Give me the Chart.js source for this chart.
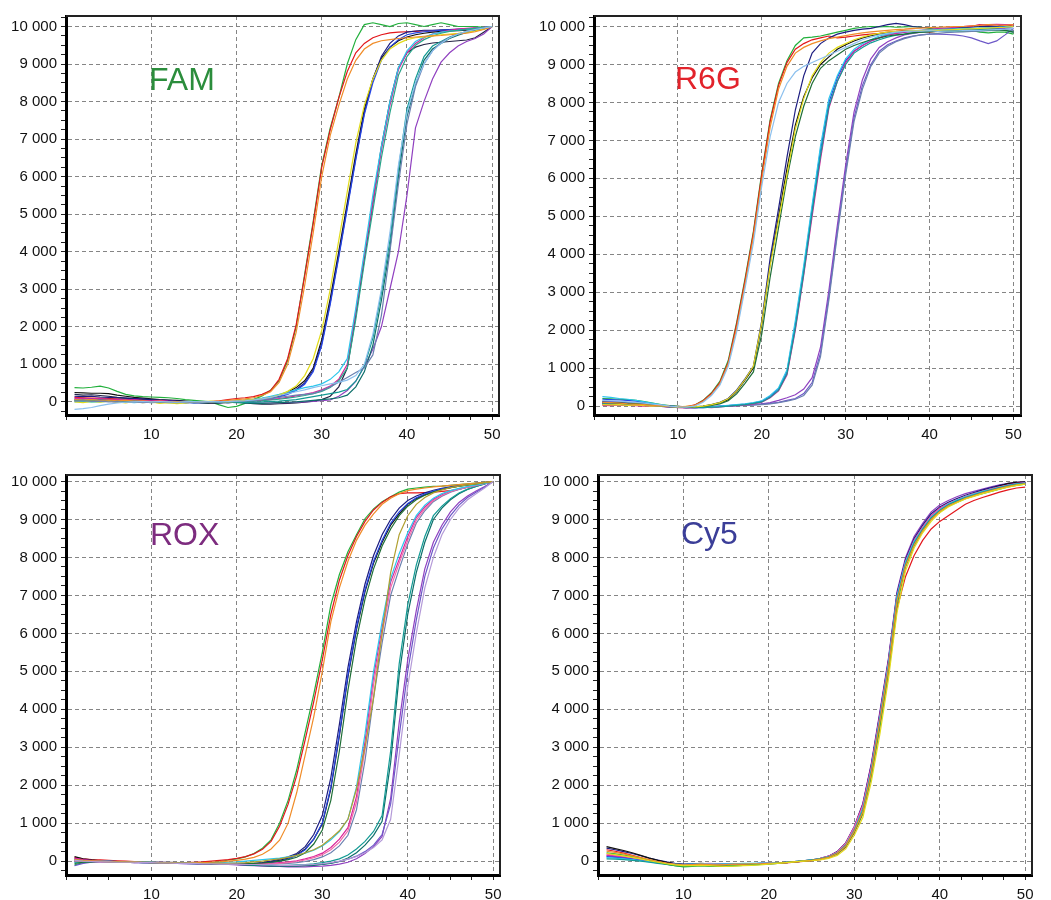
<!DOCTYPE html>
<html>
<head>
<meta charset="utf-8">
<title>Amplification curves</title>
<script src="https://cdn.jsdelivr.net/npm/chart.js@4.4.1/dist/chart.umd.min.js"></script>
<style>
  html, body { margin: 0; padding: 0; background: #fff; width: 1051px; height: 900px; overflow: hidden; }
  .panel { position: absolute; }
  .dye { position: absolute; font-family: "Liberation Sans", Arial, sans-serif; font-size: 32px; line-height: 32px; white-space: nowrap; }
</style>
</head>
<body>
<div class="panel" style="left:0px;top:3px;width:515px;height:452px"><canvas id="famCanvas"></canvas></div>
<div class="panel" style="left:528px;top:3px;width:509px;height:452px"><canvas id="r6gCanvas"></canvas></div>
<div class="panel" style="left:0px;top:462px;width:516px;height:453px"><canvas id="roxCanvas"></canvas></div>
<div class="panel" style="left:532px;top:462px;width:516px;height:453px"><canvas id="cy5Canvas"></canvas></div>

<div class="dye" style="left:149px;top:63px;color:#2b8d3c">FAM</div>
<div class="dye" style="left:675px;top:62px;color:#e2232b">R6G</div>
<div class="dye" style="left:150px;top:518px;color:#7d2c7f">ROX</div>
<div class="dye" style="left:681px;top:517px;color:#3b3e98">Cy5</div>

<script>
// cycle numbers (x axis)
const cycles = [1,2,3,4,5,6,7,8,9,10, 11,12,13,14,15,16,17,18,19,20, 21,22,23,24,25,26,27,28,29,30,
  31,32,33,34,35,36,37,38,39,40, 41,42,43,44,45,46,47,48,49,50];

// tick positions (labels only on the multiples of 10 / 1000)
const xTickValues = [0,2.5,5,7.5,10,12.5,15,17.5,20,22.5,25,27.5,30,32.5,35,37.5,40,42.5,45,47.5,50];
const yTickValues = [-250,0,250,500,750,1000,1250,1500,1750,2000,2250,2500,2750,3000,3250,3500,3750,
  4000,4250,4500,4750,5000,5250,5500,5750,6000,6250,6500,6750,7000,7250,7500,7750,8000,8250,8500,8750,
  9000,9250,9500,9750,10000,10250];

// ---- FAM ----
const famGreen = [380,370,390,420,370,280,200,160,140,130, 120,110,90,60,40,20,0,-80,-150,-120, -40,60,160,310,560,1100,2000,3400,4800,6300, 7300,8100,9000,9650,10050,10100,10050,10000,10080,10100, 10050,10000,10050,10100,10050,10000,10000,10000,9980,10000];
const famRed = [120,110,100,100,90,80,70,60,50,40, 30,20,10,0,-10,0,10,30,60,90, 110,140,200,300,600,1150,2050,3350,4750,6250, 7250,8100,8800,9300,9550,9700,9780,9830,9850,9860, 9870,9880,9880,9890,9900,9900,9920,9940,9970,10000];
const famOrange = [60,50,60,40,50,30,40,20,30,10, 20,0,10,-10,0,10,0,20,40,60, 80,110,170,270,520,1000,1850,3100,4500,6000, 7100,7900,8600,9100,9400,9550,9620,9650,9680,9700, 9720,9740,9750,9760,9780,9800,9820,9860,9920,10000];
const famYellow = [0,-20,10,-10,20,0,-30,10,-20,0, -40,-20,-50,-30,-10,0,20,10,0,20, 40,60,80,120,180,280,420,700,1150,1900, 3000,4300,5600,6900,7900,8600,9100,9400,9550,9650, 9700,9720,9750,9780,9800,9820,9850,9880,9930,10000];
const famBlack = [250,240,230,230,220,180,150,120,100,80, 60,50,40,20,0,-20,-30,-20,0,20, 40,60,90,130,180,260,380,560,900,1650, 2750,4000,5300,6600,7800,8600,9150,9450,9620,9720, 9780,9820,9850,9870,9880,9890,9900,9920,9950,10000];
const famNavy = [150,140,150,130,120,110,100,90,80,60, 50,40,30,10,0,-10,0,-20,-10,0, 10,30,60,100,150,220,330,500,850,1550, 2650,3900,5200,6500,7700,8600,9200,9550,9750,9850, 9880,9900,9900,9910,9920,9930,9940,9950,9970,10000];
const famBlue = [80,70,90,60,70,50,40,50,30,20, 30,10,0,-20,-30,-20,-10,0,-20,-10, 0,20,50,80,130,200,300,470,800,1500, 2600,3850,5150,6450,7650,8500,9100,9450,9650,9780, 9830,9860,9880,9900,9910,9920,9930,9950,9970,10000];
const famMagenta = [100,90,80,90,70,60,50,60,40,30, 40,20,10,0,-10,0,-20,-10,0,10, 20,30,40,60,90,120,160,200,250,320, 420,600,1000,2400,3900,5300,6700,7900,8850,9300, 9550,9700,9800,9850,9900,9930,9950,9970,9980,10000];
const famCyan = [0,10,-10,0,20,10,0,-20,0,10, 0,-10,-20,0,10,0,-10,0,10,20, 40,70,100,150,200,260,320,380,420,480, 600,800,1150,2500,4000,5500,6800,8000,8900,9350, 9600,9720,9800,9850,9880,9900,9920,9950,9970,10000];
const famSea = [40,30,50,30,20,30,10,20,0,10, 0,-10,0,-20,-10,0,-10,0,-20,0, 10,20,30,50,70,100,130,170,220,280, 380,560,900,2200,3700,5100,6500,7700,8700,9200, 9500,9650,9750,9820,9870,9900,9930,9950,9970,10000];
const famDark = [200,180,190,170,150,120,100,80,60,50, 40,30,10,0,-20,-30,-40,-30,-20,-10, -30,-50,-60,-60,-50,-40,-30,-10,20,60, 150,400,900,2300,3800,5300,6800,8000,8900,9300, 9450,9520,9560,9580,9600,9620,9640,9700,9850,10000];
const famTeal = [60,50,40,50,40,30,20,30,20,10, 0,10,-10,0,-20,-10,0,-10,0,-10, -20,-10,0,10,20,40,60,100,140,180, 220,260,330,550,950,1700,2900,4300,6200,7800, 8600,9200,9480,9600,9720,9800,9850,9900,9950,10000];
const famDeepTeal = [30,20,30,10,20,0,10,-10,0,-20, -10,-20,-30,-20,-10,-20,-30,-20,-10,-20, -30,-40,-40,-30,-20,-10,0,20,40,60, 80,110,180,400,800,1500,2700,4100,6000,7600, 8450,9100,9400,9550,9680,9770,9840,9900,9950,10000];
const famSky = [-200,-180,-150,-100,-60,-30,-10,0,10,0, 10,0,-10,0,10,0,10,0,10,20, 30,50,80,120,170,220,270,320,380,430, 480,520,580,700,1000,1800,3000,4500,6300,7700, 8500,9000,9350,9550,9700,9800,9870,9920,9960,10000];
const famSlate = [20,30,10,20,0,10,-10,0,-20,-10, 0,-10,-20,-10,0,-10,0,10,0,10, 20,40,60,90,120,150,180,200,220,300, 400,520,650,780,900,1250,2300,4000,5800,7400, 8400,9000,9350,9580,9700,9800,9870,9920,9960,10000];
const famPurple = [20,10,30,20,10,0,10,-10,0,-10, -20,-10,0,-20,-10,0,-10,-20,-10,0, -10,-20,-30,-30,-20,-20,-10,0,10,30, 50,150,300,550,950,1400,2000,3000,4000,5500, 7300,8000,8600,9050,9300,9480,9600,9680,9800,10000];

// ---- R6G ----
const r6gGreen = [200,190,180,170,150,120,80,40,10,-10, -30,20,150,350,650,1200,2200,3350,4600,6150, 7550,8500,9100,9500,9700,9720,9750,9800,9850,9900, 9950,9980,10000,9990,10000,9980,9990,10000,9980,9950, 9900,9880,9870,9880,9900,9850,9830,9850,9850,9800];
const r6gRed = [60,50,40,50,40,30,20,0,-20,-30, -20,30,140,330,620,1150,2150,3300,4550,6100, 7500,8450,9050,9400,9550,9650,9700,9750,9700,9720, 9750,9780,9800,9820,9850,9870,9900,9900,9880,9850, 9880,9900,9950,9970,10000,10050,10030,10050,10000,10050];
const r6gOrange = [100,90,80,60,50,40,20,10,-10,-20, -10,20,120,300,580,1100,2050,3200,4450,5950, 7350,8350,8950,9300,9450,9550,9620,9680,9720,9760, 9800,9830,9860,9880,9900,9920,9930,9950,9960,9970, 9980,9990,10000,10000,10020,10030,10050,10040,10030,10050];
const r6gSky = [150,140,130,110,100,80,50,30,0,-20, -30,0,100,280,550,1050,1950,3100,4300,5800, 7100,8000,8500,8800,8950,9050,9150,9250,9350,9450, 9550,9650,9720,9780,9820,9850,9870,9880,9880,9890, 9870,9880,9880,9890,9900,9900,9910,9920,9930,9950];
const r6gBlack = [80,70,60,70,50,40,30,20,0,-10, -20,-30,-10,30,80,170,380,680,1000,2150, 3750,5000,6250,7400,8150,8650,9000,9200,9400,9520, 9620,9700,9760,9800,9830,9850,9870,9880,9890,9900, 9900,9910,9900,9920,9930,9950,9960,9980,9990,10000];
const r6gNavy = [120,110,100,90,80,60,40,20,0,-20, -30,-20,0,40,100,200,420,720,1050,2250, 3900,5200,6550,7800,8700,9300,9550,9700,9800,9850, 9900,9930,9950,10000,10050,10080,10050,10000,9980,9970, 9960,9950,9960,9970,9980,10000,10010,10000,10020,10000];
const r6gYellow = [40,30,40,20,30,10,0,10,-10,-20, -10,-20,0,40,90,190,400,700,1050,2200, 3700,4900,6100,7300,8100,8700,9050,9300,9450,9550, 9650,9720,9780,9820,9850,9870,9880,9890,9890,9900, 9900,9910,9920,9930,9940,9950,9960,9970,9980,10000];
const r6gDarkGreen = [100,90,80,80,70,50,30,10,0,-20, -30,-30,-10,20,60,140,320,600,900,1900, 3400,4700,6000,7100,7900,8500,8900,9100,9250,9400, 9500,9580,9650,9700,9750,9780,9800,9830,9850,9860, 9870,9880,9880,9890,9900,9900,9910,9920,9900,9850];
const r6gCyan = [250,230,200,180,150,110,70,30,0,-20, -30,-40,-30,-20,0,20,40,60,90,140, 280,480,950,2250,3700,5300,6850,8100,8700,9150, 9400,9550,9650,9750,9800,9850,9870,9890,9900,9910, 9920,9930,9940,9950,9950,9960,9970,9980,9990,10000];
const r6gBlue = [180,170,160,150,130,100,60,20,-10,-30, -40,-50,-40,-30,-10,10,30,50,80,130, 260,450,900,2150,3600,5200,6750,8000,8650,9100, 9350,9500,9620,9700,9780,9820,9850,9870,9880,9900, 9900,9910,9920,9920,9930,9940,9950,9960,9980,10000];
const r6gTeal = [60,50,60,40,50,30,20,0,-20,-30, -40,-30,-40,-30,-20,0,20,40,70,110, 230,420,850,2050,3500,5100,6600,7900,8550,9000, 9300,9450,9570,9650,9720,9770,9800,9830,9850,9870, 9880,9890,9900,9900,9910,9920,9920,9930,9900,9850];
const r6gMagenta = [20,10,30,20,10,0,10,-10,-20,-40, -50,-40,-30,-40,-20,0,10,30,60,100, 220,400,820,2000,3450,5000,6500,7850,8550,9050, 9350,9500,9620,9700,9780,9820,9850,9880,9900,9920, 9940,9960,9980,10000,10020,10040,10050,10060,10050,10050];
const r6gPurple = [50,40,30,40,20,10,0,-10,-20,-30, -40,-30,-20,-10,0,10,20,30,40,60, 90,150,220,300,450,750,1550,3050,4750,6350, 7750,8600,9150,9450,9600,9700,9780,9820,9850,9870, 9880,9890,9900,9910,9920,9930,9940,9950,9960,9950];
const r6gViolet = [130,120,110,100,90,70,40,20,0,-20, -30,-40,-30,-20,-10,0,10,20,30,50, 70,100,150,200,330,620,1400,2900,4600,6200, 7600,8450,9000,9350,9520,9620,9700,9750,9780,9800, 9800,9790,9780,9750,9700,9620,9550,9620,9780,9950];
const r6gSlate = [80,70,60,50,40,30,20,0,-10,-20, -30,-20,-30,-20,-10,0,10,20,30,40, 60,90,130,180,280,550,1300,2800,4500,6100, 7500,8350,8950,9300,9480,9600,9680,9740,9780,9800, 9820,9840,9850,9860,9870,9880,9890,9900,9920,9900];

// ---- ROX ----
const roxGreen = [-100,-40,-20,-10,-10,-20,-20,-30,-30,-40, -40,-50,-50,-60,-60,-50,-40,-20,30,60, 110,200,340,560,1000,1600,2400,3400,4400,5500, 6750,7550,8150,8600,9020,9280,9470,9600,9720,9800, 9830,9850,9870,9880,9900,9920,9940,9960,9980,10000];
const roxRed = [100,60,40,30,20,10,0,-10,-20,-20, -30,-30,-40,-40,-30,-20,0,20,40,70, 120,190,310,520,920,1500,2250,3200,4200,5300, 6500,7400,8050,8550,8950,9250,9450,9600,9680,9700, 9700,9710,9720,9740,9760,9800,9850,9900,9950,10000];
const roxOrange = [40,20,10,0,-10,-10,-20,-20,-30,-30, -40,-40,-50,-50,-40,-40,-30,-20,0,20, 50,100,180,320,550,1000,1800,2800,3800,5000, 6300,7200,7900,8450,8850,9150,9400,9560,9680,9760, 9800,9830,9860,9880,9900,9920,9940,9960,9980,10000];
const roxBlack = [120,60,30,10,0,-10,-20,-20,-30,-30, -40,-40,-50,-50,-60,-60,-70,-70,-80,-80, -80,-70,-50,-20,20,80,170,320,580,980, 1900,3300,4850,6100,7100,7850,8400,8850,9150,9400, 9550,9650,9730,9800,9840,9880,9910,9940,9970,10000];
const roxNavy = [60,30,10,0,-10,-10,-20,-30,-30,-40, -40,-50,-50,-60,-60,-70,-70,-80,-80,-80, -70,-60,-40,0,50,110,200,380,700,1200, 2200,3600,5100,6300,7300,8050,8600,9000,9300,9500, 9620,9700,9770,9820,9860,9890,9920,9950,9970,10000];
const roxBlue = [0,0,-10,-10,-20,-20,-30,-30,-40,-40, -50,-50,-60,-60,-70,-70,-80,-80,-80,-90, -90,-80,-70,-40,0,60,150,300,580,1000, 1950,3350,4900,6150,7150,7900,8450,8900,9200,9420, 9570,9670,9750,9810,9850,9890,9920,9950,9970,10000];
const roxDarkGreen = [-60,-30,-20,-10,-10,-20,-20,-30,-30,-40, -40,-50,-50,-50,-60,-60,-60,-70,-70,-70, -70,-60,-50,-30,0,40,100,220,450,820, 1600,2900,4500,5850,6900,7700,8300,8750,9100,9350, 9520,9640,9720,9790,9840,9880,9910,9940,9970,10000];
const roxOlive = [20,0,-10,-10,-20,-20,-30,-30,-30,-40, -40,-40,-50,-50,-50,-60,-60,-60,-60,-50, -40,-20,0,30,60,100,150,220,300,420, 600,800,1100,1900,3000,4300,6000,7600,8600,9100, 9400,9580,9700,9780,9840,9880,9910,9940,9970,10000];
const roxMagenta = [80,40,20,10,0,-10,-10,-20,-20,-30, -30,-40,-40,-50,-50,-60,-60,-70,-70,-80, -80,-80,-70,-60,-40,-20,10,60,120,210, 360,580,880,1700,3150,4850,6150,7350,7950,8550, 9050,9330,9530,9650,9740,9800,9850,9900,9950,10000];
const roxCyan = [-40,-20,-10,0,0,-10,-10,-20,-20,-20, -30,-30,-40,-40,-40,-50,-50,-40,-30,-20, 0,20,40,60,80,110,150,210,290,400, 560,780,1100,1950,3350,5000,6300,7450,8100,8650, 9100,9380,9560,9680,9760,9820,9870,9910,9950,10000];
const roxPink = [0,-10,-10,-20,-20,-20,-30,-30,-30,-40, -40,-50,-50,-60,-60,-70,-70,-70,-80,-80, -80,-80,-80,-70,-60,-40,-10,30,90,170, 300,500,800,1550,2950,4650,6000,7200,7850,8450, 8980,9280,9500,9630,9730,9800,9850,9900,9950,10000];
const roxSlate = [30,10,0,-10,-10,-20,-20,-30,-30,-40, -40,-50,-50,-60,-60,-70,-70,-80,-80,-90, -90,-90,-90,-80,-70,-60,-40,-10,40,110, 220,400,680,1350,2650,4300,5750,7000,7700,8350, 8900,9230,9470,9610,9720,9790,9850,9900,9950,10000];
const roxTeal = [50,20,0,-10,-10,-20,-20,-30,-30,-40, -40,-50,-50,-60,-60,-70,-70,-80,-80,-90, -90,-100,-100,-110,-110,-110,-100,-90,-70,-40, 0,60,160,320,520,780,1200,2900,5200,6750, 7800,8550,9100,9350,9550,9700,9800,9870,9940,10000];
const roxDeepTeal = [-20,-20,-10,-10,-20,-20,-30,-30,-40,-40, -50,-50,-60,-60,-70,-70,-80,-80,-90,-90, -100,-110,-120,-130,-130,-130,-130,-120,-110,-90, -60,-10,80,220,420,680,1050,2600,4900,6500, 7600,8400,9000,9300,9520,9680,9790,9870,9940,10000];
const roxPurple = [0,-10,-10,-20,-20,-30,-30,-40,-40,-50, -50,-60,-60,-70,-70,-80,-80,-90,-90,-100, -110,-120,-130,-140,-140,-150,-150,-150,-140,-130, -110,-80,-30,60,200,380,650,1650,3650,5300, 6600,7700,8400,8850,9200,9450,9620,9750,9870,10000];
const roxViolet = [-120,-60,-30,-20,-20,-30,-30,-40,-40,-50, -50,-60,-60,-70,-70,-80,-80,-80,-90,-90, -100,-100,-110,-110,-120,-120,-120,-110,-100,-80, -50,-10,50,130,250,420,700,1500,3300,5000, 6350,7500,8250,8750,9100,9380,9580,9720,9850,10000];
const roxLilac = [20,0,-10,-20,-20,-30,-30,-30,-40,-40, -50,-50,-60,-60,-60,-70,-70,-80,-80,-80, -90,-90,-100,-100,-110,-110,-110,-100,-90,-70, -40,0,50,120,220,360,560,1100,2800,4600, 6000,7200,8000,8600,9000,9300,9520,9680,9830,10000];

// ---- Cy5 ----
const cy5Black = [380,330,280,220,150,80,20,-30,-70,-90, -80,-60,-70,-80,-80,-90,-80,-80,-70,-60, -50,-40,-20,0,20,60,120,230,450,850, 1400,2450,3800,5200,6950,7850,8400,8750,9050,9250, 9400,9500,9600,9680,9750,9800,9880,9950,9980,9990];
const cy5Red = [300,260,210,150,90,30,-20,-60,-90,-110, -100,-90,-100,-110,-100,-90,-90,-80,-80,-70, -60,-50,-30,-10,10,40,90,180,370,750, 1250,2250,3550,4950,6650,7500,8050,8450,8750,8950, 9100,9250,9400,9500,9580,9650,9720,9780,9830,9850];
const cy5Green = [220,190,160,120,70,20,-30,-80,-120,-150, -140,-120,-130,-140,-130,-120,-110,-100,-90,-80, -60,-40,-20,0,20,50,100,190,380,760, 1250,2250,3550,5000,6750,7750,8300,8700,9000,9200, 9350,9450,9550,9620,9680,9740,9800,9860,9900,9930];
const cy5Blue = [120,100,80,60,30,0,-30,-60,-80,-90, -80,-80,-90,-80,-70,-80,-70,-70,-60,-60, -50,-30,-20,0,20,60,110,220,430,830, 1350,2400,3750,5150,6950,7850,8400,8750,9050,9250, 9400,9500,9580,9650,9720,9780,9840,9900,9940,9960];
const cy5Navy = [340,300,250,200,140,80,30,-20,-60,-80, -80,-70,-80,-90,-80,-80,-70,-70,-60,-50, -40,-30,-10,10,30,70,130,250,480,900, 1500,2550,3900,5300,7050,7950,8500,8850,9150,9330, 9450,9550,9640,9710,9780,9840,9900,9940,9960,9980];
const cy5Magenta = [160,140,110,80,40,0,-40,-70,-100,-110, -100,-90,-100,-110,-100,-90,-90,-80,-70,-60, -50,-40,-20,0,20,60,120,230,450,880, 1480,2500,3850,5250,7000,7900,8450,8800,9100,9300, 9420,9520,9600,9670,9740,9800,9860,9910,9950,9970];
const cy5Cyan = [90,80,60,40,10,-20,-50,-70,-80,-90, -80,-70,-80,-80,-70,-70,-60,-60,-50,-50, -40,-30,-10,10,30,60,110,210,420,820, 1380,2420,3780,5200,6980,7880,8420,8760,9060,9260, 9410,9510,9600,9670,9740,9790,9850,9900,9940,9960];
const cy5Yellow = [200,170,140,100,60,10,-30,-70,-100,-120, -120,-110,-120,-130,-140,-130,-120,-110,-100,-80, -60,-40,-20,0,10,30,70,150,320,680, 1150,2100,3350,4800,6550,7650,8250,8650,8950,9180, 9330,9440,9540,9610,9680,9740,9800,9850,9900,9930];
const cy5Orange = [260,230,190,140,90,40,-10,-50,-80,-100, -90,-80,-90,-100,-90,-80,-80,-70,-70,-60, -50,-40,-20,0,20,50,100,200,400,790, 1300,2330,3680,5080,6850,7780,8330,8700,9000,9210, 9360,9460,9560,9630,9700,9760,9820,9870,9910,9940];
const cy5Purple = [140,120,100,70,40,0,-40,-80,-110,-130, -120,-100,-110,-120,-110,-100,-100,-90,-80,-70, -60,-40,-20,0,20,60,130,250,480,920, 1520,2580,3950,5350,7100,8000,8550,8900,9200,9380, 9500,9600,9680,9740,9800,9860,9910,9950,9980,10000];
const cy5Teal = [60,50,40,20,0,-30,-60,-90,-120,-140, -130,-120,-130,-140,-130,-120,-110,-100,-90,-70, -50,-30,-10,10,30,60,110,210,410,800, 1330,2380,3720,5120,6900,7820,8380,8740,9040,9240, 9390,9490,9580,9650,9720,9780,9840,9890,9930,9950];
const cy5Pink = [180,160,130,90,50,10,-30,-60,-90,-100, -90,-70,-60,-70,-80,-80,-70,-70,-60,-50, -40,-30,-10,10,30,70,130,240,470,900, 1450,2480,3830,5230,6950,7880,8430,8780,9080,9280, 9420,9520,9610,9680,9740,9800,9860,9900,9940,9960];

// line colours
const col = {
  green: '#22b03c', red: '#e3161b', orange: '#f08c28', yellow: '#e2dc1a', black: '#111111',
  navy: '#1c1c80', blue: '#2546e6', magenta: '#d8249a', cyan: '#2cc6ec', sea: '#2aa58a',
  dark: '#222244', teal: '#129a94', deepTeal: '#0d6f6a', sky: '#8cc0ee', slate: '#6a80b0',
  purple: '#9040c0', darkGreen: '#1e6e36', pink: '#f06aa8', violet: '#6d58c8',
  olive: '#b0a030', lilac: '#b49ad8'
};

const famCurves = [
  [col.sky, famSky], [col.slate, famSlate], [col.orange, famOrange], [col.yellow, famYellow],
  [col.sea, famSea], [col.cyan, famCyan], [col.magenta, famMagenta], [col.teal, famTeal],
  [col.deepTeal, famDeepTeal], [col.purple, famPurple], [col.blue, famBlue], [col.navy, famNavy],
  [col.black, famBlack], [col.dark, famDark], [col.red, famRed], [col.green, famGreen]
];
const r6gCurves = [
  [col.sky, r6gSky], [col.orange, r6gOrange], [col.yellow, r6gYellow], [col.darkGreen, r6gDarkGreen],
  [col.teal, r6gTeal], [col.cyan, r6gCyan], [col.magenta, r6gMagenta], [col.blue, r6gBlue],
  [col.slate, r6gSlate], [col.violet, r6gViolet], [col.purple, r6gPurple], [col.navy, r6gNavy],
  [col.black, r6gBlack], [col.red, r6gRed], [col.green, r6gGreen]
];
const roxCurves = [
  [col.lilac, roxLilac], [col.olive, roxOlive], [col.orange, roxOrange], [col.darkGreen, roxDarkGreen],
  [col.cyan, roxCyan], [col.pink, roxPink], [col.slate, roxSlate], [col.magenta, roxMagenta],
  [col.teal, roxTeal], [col.deepTeal, roxDeepTeal], [col.violet, roxViolet], [col.purple, roxPurple],
  [col.blue, roxBlue], [col.navy, roxNavy], [col.black, roxBlack], [col.red, roxRed], [col.green, roxGreen]
];
const cy5Curves = [
  [col.yellow, cy5Yellow], [col.orange, cy5Orange], [col.green, cy5Green], [col.teal, cy5Teal],
  [col.cyan, cy5Cyan], [col.pink, cy5Pink], [col.red, cy5Red], [col.blue, cy5Blue],
  [col.magenta, cy5Magenta], [col.black, cy5Black], [col.navy, cy5Navy], [col.purple, cy5Purple]
];

// thin top/right frame of the plot box
const framePlugin = {
  id: 'frame',
  afterDraw(chart) {
    const { ctx, chartArea: a } = chart;
    ctx.save();
    ctx.strokeStyle = '#222';
    ctx.lineWidth = 2;
    ctx.beginPath();
    ctx.moveTo(a.left, a.top);
    ctx.lineTo(a.right, a.top);
    ctx.lineTo(a.right, a.bottom);
    ctx.stroke();
    ctx.restore();
  }
};

function spaced(v) {
  return String(v).replace(/\B(?=(\d{3})+(?!\d))/g, ' ');
}

function useTicks(values) {
  return s => {
    s.ticks = values.filter(v => v >= s.min && v <= s.max).map(v => ({ value: v }));
  };
}

const tickFont = { family: '"Liberation Sans", Arial, sans-serif', size: 15 };

function makePanel(canvasId, curves, xMax, yMin, yMax) {
  new Chart(document.getElementById(canvasId), {
    type: 'line',
    data: {
      labels: cycles,
      datasets: curves.map(c => ({
        data: c[1], borderColor: c[0], borderWidth: 1.2,
        pointRadius: 0, tension: 0, fill: false
      }))
    },
    options: {
      responsive: true,
      maintainAspectRatio: false,
      animation: false,
      events: [],
      layout: { padding: { top: 10, right: 16, left: 0, bottom: 0 } },
      plugins: { legend: { display: false }, tooltip: { enabled: false } },
      scales: {
        x: {
          type: 'linear', min: 0, max: xMax,
          afterBuildTicks: useTicks(xTickValues),
          afterFit: s => { s.height = 40; },
          ticks: {
            autoSkip: false, maxRotation: 0, minRotation: 0, padding: 6, color: '#111', font: tickFont,
            callback: v => (v > 0 && v % 10 === 0) ? String(v) : ''
          },
          grid: {
            color: c => (c.tick && c.tick.value % 10 === 0) ? '#858585' : 'rgba(0,0,0,0)',
            lineWidth: 1, tickLength: 5, tickColor: '#222', tickWidth: 1
          },
          border: { color: '#000', width: 3, dash: [4, 3], z: 1 }
        },
        y: {
          min: yMin, max: yMax,
          afterBuildTicks: useTicks(yTickValues),
          afterFit: s => { s.width = 66; },
          ticks: {
            autoSkip: false, padding: 4, color: '#111', font: tickFont,
            callback: v => (v % 1000 === 0) ? spaced(v) : ''
          },
          grid: {
            color: c => (c.tick && c.tick.value % 1000 === 0) ? '#858585' : 'rgba(0,0,0,0)',
            lineWidth: 1, tickLength: 5, tickColor: '#222', tickWidth: 1
          },
          border: { color: '#000', width: 3, dash: [4, 3], z: 1 }
        }
      }
    },
    plugins: [framePlugin]
  });
}

makePanel('famCanvas', famCurves, 50.8, -350, 10280);
makePanel('r6gCanvas', r6gCurves, 50.9, -235, 10277);
makePanel('roxCanvas', roxCurves, 50.8, -366, 10172);
makePanel('cy5Canvas', cy5Curves, 50.8, -366, 10172);
</script>
</body>
</html>
